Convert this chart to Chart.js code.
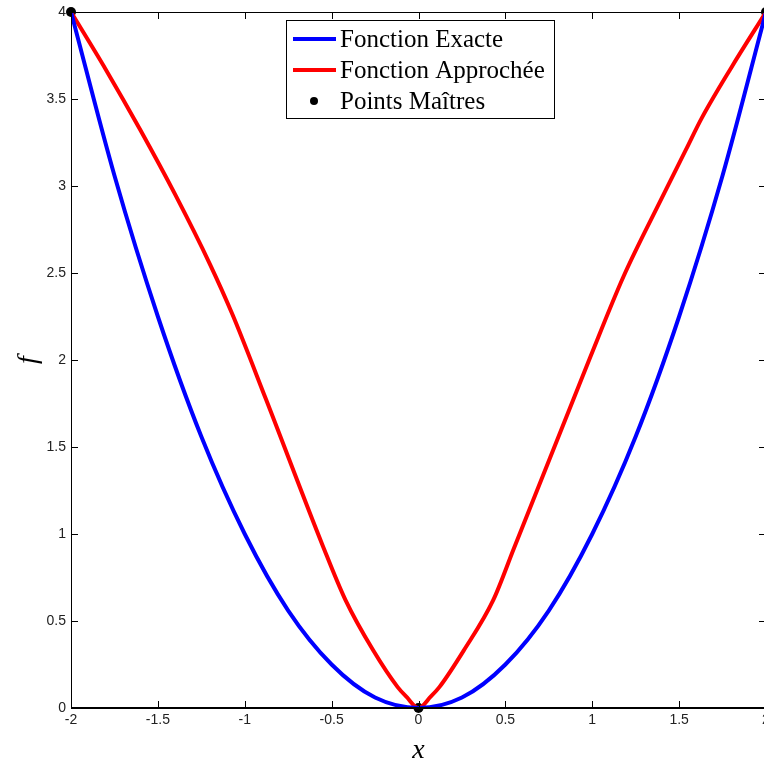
<!DOCTYPE html>
<html>
<head>
<meta charset="utf-8">
<script src="https://cdn.jsdelivr.net/npm/chart.js@4/dist/chart.umd.min.js"></script>
<style>
    html, body { margin: 0; padding: 0; background: #fff; overflow: hidden; }
    canvas { display: block; }
</style>
</head>
<body>
<canvas id="courbes" width="766" height="767"></canvas>
<script>
// fonction exacte
const exactX = [-2, -1.75, -1.5, -1.25, -1, -0.75, -0.5, -0.25, 0, 0.25, 0.5, 0.75, 1, 1.25, 1.5, 1.75, 2];
const exactY = [4, 3.06, 2.25, 1.56, 1, 0.56, 0.25, 0.06, 0, 0.06, 0.25, 0.56, 1, 1.56, 2.25, 3.06, 4];

// fonction approchée
const approX = [-2, -1.8, -1.6, -1.4, -1.2, -1.07, -0.88, -0.55, -0.42, -0.26, -0.12, -0.07, 0,
    0.07, 0.12, 0.26, 0.43, 0.55, 0.89, 0.99, 1.18, 1.4, 1.54, 1.63, 1.8, 2];
const approY = [4, 3.67, 3.32, 2.95, 2.55, 2.26, 1.78, 0.93, 0.62, 0.33, 0.12, 0.065, 0,
    0.065, 0.12, 0.33, 0.62, 0.92, 1.77, 2.02, 2.48, 2.93, 3.21, 3.39, 3.68, 4];

// points maîtres
const maitresX = [-2, 0, 2];
const maitresY = [4, 0, 4];

const xTicks = [-2, -1.5, -1, -0.5, 0, 0.5, 1, 1.5, 2];
const yTicks = [0, 0.5, 1, 1.5, 2, 2.5, 3, 3.5, 4];

const toPoints = (xs, ys) => xs.map((x, i) => ({ x: x, y: ys[i] }));

const tickFont = { family: 'Liberation Sans, Arial', size: 14 };
const legendFont = '25px "Liberation Serif", "Times New Roman", serif';

// cadre + graduations vers l'intérieur (style matlab)
const cadre = {
    id: 'cadre',
    afterDatasetsDraw(chart) {
        const { ctx, chartArea: { left, right, top, bottom }, scales: { x, y } } = chart;
        ctx.save();
        ctx.strokeStyle = '#000';
        ctx.lineWidth = 1;
        ctx.strokeRect(left + 0.5, top + 0.5, right - left - 1, bottom - top - 1);
        ctx.beginPath();
        xTicks.forEach(v => {
            const px = Math.round(x.getPixelForValue(v)) + 0.5;
            ctx.moveTo(px, bottom); ctx.lineTo(px, bottom - 7);
            ctx.moveTo(px, top); ctx.lineTo(px, top + 7);
        });
        yTicks.forEach(v => {
            const py = Math.round(y.getPixelForValue(v)) + 0.5;
            ctx.moveTo(left, py); ctx.lineTo(left + 7, py);
            ctx.moveTo(right, py); ctx.lineTo(right - 7, py);
        });
        ctx.stroke();
        ctx.restore();
    }
};

// légende dessinée dans le cadre
const legende = {
    id: 'legende',
    afterDraw(chart) {
        const ctx = chart.ctx;
        const bx = 286, by = 20, bw = 268, bh = 98;
        ctx.save();
        ctx.fillStyle = '#fff';
        ctx.fillRect(bx, by, bw, bh);
        ctx.strokeStyle = '#000';
        ctx.lineWidth = 1;
        ctx.strokeRect(bx + 0.5, by + 0.5, bw, bh);
        ctx.font = legendFont;
        ctx.textBaseline = 'middle';
        chart.data.datasets.forEach((ds, i) => {
            const cy = by + 19 + i * 31;
            if (ds.showLine === false) {
                ctx.beginPath();
                ctx.arc(314, cy, 4, 0, Math.PI * 2);
                ctx.fillStyle = '#000';
                ctx.fill();
            } else {
                ctx.strokeStyle = ds.borderColor;
                ctx.lineWidth = 4;
                ctx.beginPath();
                ctx.moveTo(293, cy);
                ctx.lineTo(336, cy);
                ctx.stroke();
            }
            ctx.fillStyle = '#000';
            ctx.fillText(ds.label, 340, cy + 1);
        });
        ctx.restore();
    }
};

const options = {
    type: 'scatter',
    data: {
        datasets: [
            {
                label: 'Fonction Exacte',
                data: toPoints(exactX, exactY),
                showLine: true,
                borderColor: '#0000ff',
                borderWidth: 4,
                pointRadius: 0,
                cubicInterpolationMode: 'monotone'
            },
            {
                label: 'Fonction Approchée',
                data: toPoints(approX, approY),
                showLine: true,
                borderColor: '#ff0000',
                borderWidth: 4,
                pointRadius: 0,
                cubicInterpolationMode: 'monotone'
            },
            {
                label: 'Points Maîtres',
                data: toPoints(maitresX, maitresY),
                showLine: false,
                pointRadius: 5,
                backgroundColor: '#000',
                borderColor: '#000',
                borderWidth: 0,
                clip: false
            }
        ]
    },
    options: {
        responsive: false,
        animation: false,
        layout: { autoPadding: false, padding: { top: 12, right: 0, left: 0, bottom: 0 } },
        plugins: {
            legend: { display: false },
            tooltip: { enabled: false }
        },
        scales: {
            x: {
                type: 'linear',
                min: -2,
                max: 2,
                afterFit: scale => {
                    scale.height = 59;
                    scale.paddingLeft = 0;
                    scale.paddingRight = 0;
                },
                afterBuildTicks: scale => { scale.ticks = xTicks.map(v => ({ value: v })); },
                grid: { display: false, drawTicks: false },
                border: { display: true, color: '#000' },
                ticks: {
                    font: tickFont, color: '#222', padding: 4, autoSkip: false, maxRotation: 0,
                    callback: v => String(v)
                },
                title: {
                    display: true,
                    text: 'x',
                    font: { family: 'Liberation Serif, Times New Roman', size: 28, style: 'italic' },
                    color: '#000',
                    padding: { top: 0, bottom: 0 }
                }
            },
            y: {
                type: 'linear',
                min: 0,
                max: 4,
                afterFit: scale => {
                    scale.width = 71;
                    scale.paddingTop = 0;
                    scale.paddingBottom = 0;
                },
                afterBuildTicks: scale => { scale.ticks = yTicks.map(v => ({ value: v })); },
                grid: { display: false, drawTicks: false },
                border: { display: true, color: '#000' },
                ticks: {
                    font: tickFont, color: '#222', padding: 5, autoSkip: false,
                    callback: v => String(v)
                },
                title: {
                    display: true,
                    text: 'f',
                    font: { family: 'Liberation Serif, Times New Roman', size: 28, style: 'italic' },
                    color: '#000',
                    padding: { top: 12, bottom: 0 }
                }
            }
        }
    },
    plugins: [cadre, legende]
};

new Chart(document.getElementById('courbes'), options);
</script>
</body>
</html>
